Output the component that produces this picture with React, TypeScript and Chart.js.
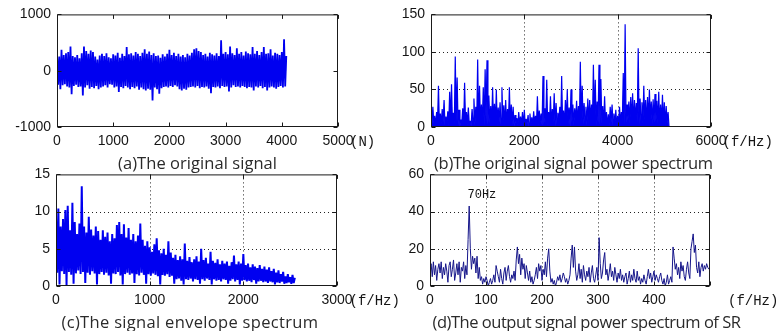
import React, { useEffect, useLayoutEffect, useRef } from "react";
import { Chart, registerables } from "chart.js";

Chart.register(...registerables);

// ---------------- (a) original signal: alternating upper / lower extremes ----------------
const SIGNAL_STEP = 20; // samples between successive extreme points
const SIGNAL_UPPER = [
  300, 250, 370, 280, 310, 330, 430, 260, 240, 280,
  220, 310, 430, 350, 300, 360, 330, 250, 200, 270,
  300, 260, 310, 240, 220, 290, 270, 320, 230, 300,
  260, 420, 290, 310, 270, 330, 300, 260, 320, 380,
  300, 340, 280, 310, 260, 270, 230, 290, 250, 300,
  370, 280, 320, 260, 300, 250, 280, 240, 300, 270,
  320, 380, 400, 350, 330, 280, 300, 250, 320, 290,
  270, 310, 260, 540, 300, 330, 290, 430, 310, 280,
  400, 300, 330, 270, 340, 310, 290, 420, 300, 350,
  280, 330, 420, 300, 310, 380, 270, 320, 300, 280,
  330, 560, 260,
];
const SIGNAL_LOWER = [
  -250, -330, -260, -240, -280, -300, -420, -270, -250, -290,
  -280, -440, -300, -260, -320, -290, -310, -270, -330, -300,
  -280, -260, -300, -240, -250, -300, -280, -380, -290, -310,
  -270, -300, -330, -290, -310, -280, -340, -300, -330, -350,
  -320, -340, -530, -300, -330, -410, -310, -290, -280, -300,
  -270, -290, -260, -280, -330, -350, -320, -340, -300, -290,
  -280, -300, -270, -310, -290, -300, -280, -320, -400, -290,
  -300, -280, -310, -270, -290, -280, -370, -300, -260, -290,
  -280, -300, -270, -290, -310, -290, -300, -350, -280, -300,
  -270, -310, -290, -350, -300, -280, -300, -320, -290, -270,
  -300, -280,
];

// ---------------- (b) original power spectrum ----------------
const SPEC_STEP = 20; // Hz between successive points (peak, trough, peak, ...)
const SPEC_PEAKS = [
  22, 27, 15, 20, 55, 18, 24, 36, 14, 21,
  47, 57, 19, 94, 66, 23, 10, 25, 59, 20,
  26, 8, 24, 38, 27, 90, 55, 30, 53, 77,
  89, 42, 28, 53, 31, 50, 26, 33, 53, 29,
  36, 24, 53, 30, 27, 16, 12, 20, 14, 20,
  23, 11, 16, 18, 13, 21, 15, 41, 22, 18,
  68, 25, 63, 20, 41, 24, 45, 32, 19, 27,
  68, 22, 36, 50, 26, 50, 30, 25, 35, 28,
  87, 55, 32, 27, 38, 36, 30, 83, 63, 34,
  83, 64, 28, 41, 20, 17, 27, 30, 18, 23,
  15, 27, 20, 72, 137, 30, 34, 40, 45, 36,
  32, 105, 38, 33, 55, 36, 40, 50, 34, 37,
  44, 35, 47, 30, 43, 33, 28, 20,
];
const SPEC_TROUGHS = [
  3, 5, 2, 6, 1, 4, 7, 2, 5, 3,
  6, 2, 4, 8, 3, 1, 5, 2, 6, 3,
  4, 2, 7, 3, 5, 1, 6, 4, 2, 8,
  3, 5, 2, 6, 4, 1, 7, 3, 5, 2,
  4, 6, 2, 3, 1, 5, 2, 4, 3, 1,
  2, 4, 1, 3, 2, 5, 1, 3, 6, 2,
  4, 7, 3, 5, 2, 6, 1, 4, 8, 3,
  5, 2, 6, 4, 1, 7, 3, 9, 5, 2,
  6, 4, 8, 3, 5, 10, 4, 7, 2, 6,
  3, 5, 2, 4, 1, 3, 6, 2, 4, 1,
  3, 5, 8, 4, 6, 9, 5, 7, 3, 10,
  6, 4, 8, 5, 9, 3, 7, 11, 4, 6,
  8, 5, 3, 6, 4, 2, 5, 1,
];

// ---------------- (c) envelope spectrum ----------------
const ENV_STEP = 12.5; // Hz between successive points
const ENV_PEAKS = [
  9.2, 10.4, 8.0, 9.0, 10.2, 10.8, 7.5, 11.2, 8.6, 7.0,
  8.4, 13.4, 8.0, 7.2, 9.3, 7.6, 6.8, 8.0, 7.4, 6.2,
  7.5, 6.6, 7.2, 6.0, 7.0, 6.4, 8.2, 8.6, 7.0, 8.3,
  6.5, 7.8, 6.2, 7.0, 6.0, 6.8, 8.4, 6.2, 5.4, 6.0,
  5.2, 4.6, 5.6, 6.4, 4.8, 4.4, 5.0, 4.2, 6.0, 4.5,
  3.8, 4.2, 3.5, 4.0, 3.6, 5.7, 3.4, 3.9, 3.2, 3.6,
  4.0, 3.3, 5.0, 3.5, 3.8, 3.0, 4.6, 3.4, 3.1, 3.6,
  2.9, 3.4, 3.0, 3.3, 2.7, 3.2, 4.1, 2.9, 3.3, 3.0,
  4.3, 2.8, 3.0, 2.5, 2.9, 2.6, 2.4, 2.8, 2.3, 2.6,
  2.2, 2.5, 2.0, 2.3, 1.8, 2.1, 1.6, 1.9, 1.3, 1.6,
  1.2, 1.5, 1.1,
];
const ENV_TROUGHS = [
  1.8, 0.2, 2.0, 1.6, 0.1, 1.9, 1.5, 0.3, 1.7, 2.1,
  1.6, 1.9, 0.4, 1.8, 1.5, 2.0, 1.7, 0.2, 1.6, 1.9,
  1.5, 1.8, 1.4, 0.3, 1.7, 1.6, 1.9, 1.4, 0.2, 1.6,
  1.8, 1.5, 1.7, 0.4, 1.6, 1.4, 1.8, 1.5, 0.3, 1.6,
  1.4, 1.7, 1.5, 1.3, 0.2, 1.5, 1.4, 1.6, 1.2, 1.4,
  0.3, 0.9, 1.0, 0.7, 0.2, 0.9, 0.8, 1.0, 0.6, 0.9,
  0.8, 0.3, 0.9, 0.7, 1.0, 0.8, 0.2, 0.9, 0.7, 0.8,
  0.6, 0.9, 0.8, 0.3, 0.7, 0.9, 0.6, 0.8, 0.2, 0.7,
  0.8, 0.6, 0.7, 0.5, 0.8, 0.3, 0.6, 0.7, 0.5, 0.6,
  0.4, 0.6, 0.5, 0.2, 0.5, 0.4, 0.6, 0.3, 0.4, 0.5,
  0.3, 0.4,
];

// ---------------- (d) SR output power spectrum ----------------
const SR_STEP = 2; // Hz
const SR_VALUES = [
  8, 12, 5, 13, 6, 11, 3, 9, 12, 7,
  13, 4, 10, 6, 12, 8, 2, 11, 13, 5,
  9, 14, 3, 7, 12, 6, 13, 2, 10, 8,
  13, 4, 11, 6, 25, 43, 20, 9, 16, 12,
  15, 7, 16, 4, 10, 3, 5, 1, 4, 2,
  5, 3, 0, 2, 4, 1, 3, 6, 2, 11,
  8, 5, 2, 9, 4, 1, 7, 10, 3, 8,
  11, 5, 2, 6, 4, 8, 3, 14, 21, 12,
  17, 6, 15, 9, 12, 4, 11, 7, 3, 8,
  2, 5, 1, 3, 6, 10, 4, 12, 8, 11,
  3, 9, 6, 13, 5, 15, 20, 8, 2, 4,
  1, 3, 0, 2, 5, 3, 6, 2, 4, 7,
  5, 2, 4, 1, 3, 6, 15, 22, 10, 21,
  8, 3, 6, 12, 4, 9, 2, 11, 6, 3,
  8, 5, 10, 2, 7, 11, 4, 2, 6, 10,
  3, 26, 12, 4, 7, 14, 18, 6, 9, 3,
  7, 12, 5, 8, 3, 10, 6, 2, 7, 4,
  9, 3, 6, 2, 5, 7, 1, 4, 8, 2,
  6, 3, 9, 4, 2, 8, 3, 5, 1, 4,
  2, 6, 3, 1, 5, 9, 4, 7, 2, 5,
  8, 3, 6, 4, 2, 5, 7, 3, 1, 4,
  0, 2, 6, 1, 3, 5, 2, 21, 15, 9,
  12, 6, 10, 4, 13, 8, 11, 5, 3, 9,
  13, 7, 4, 20, 24, 28, 18, 22, 10, 7,
  13, 5, 10, 12, 8, 11, 9, 12, 10, 9,
];
const SR_NOTE = { text: "70Hz", x: 67, y: 47.4 };

// ---------------- ticks ----------------
const A_X_TICKS = [0, 1000, 2000, 3000, 4000, 5000];
const A_Y_TICKS = [-1000, 0, 1000];
const B_X_TICKS = [0, 2000, 4000, 6000];
const B_Y_TICKS = [0, 50, 100, 150];
const C_X_TICKS = [0, 1000, 2000, 3000];
const C_Y_TICKS = [0, 5, 10, 15];
const D_X_TICKS = [0, 100, 200, 300, 400, 500];
const D_X_LABELS = ["0", "100", "200", "300", "400", ""];
const D_Y_TICKS = [0, 20, 40, 60];

type Pt = { x: number; y: number };

function alternate(hi: number[], lo: number[], step: number): Pt[] {
  const out: Pt[] = [];
  for (let i = 0; i < hi.length; i++) {
    out.push({ x: 2 * i * step, y: hi[i] });
    if (i < lo.length) out.push({ x: (2 * i + 1) * step, y: lo[i] });
  }
  return out;
}

function series(vals: number[], step: number): Pt[] {
  return vals.map((v, i) => ({ x: i * step, y: v }));
}

const TICK_FONT = { family: '"Liberation Sans", Arial, sans-serif', size: 14 };
const TICK_COLOR = "#151515";
const FRAME_COLOR = "#1a1a1a";

type Spec = {
  left: number;
  top: number;
  width: number;
  height: number;
  area: [number, number, number, number];
  xMin: number;
  xMax: number;
  yMin: number;
  yMax: number;
  xTicks: number[];
  xLabels?: string[];
  yTicks: number[];
  grid: boolean;
  points: Pt[];
  color: string;
  lineWidth: number;
  fill: boolean;
  note?: { text: string; x: number; y: number };
};

function framePlugin(spec: Spec) {
  return {
    id: "frame",
    beforeDatasetsDraw(chart: any) {
      if (!spec.grid) return;
      const { ctx, chartArea: a, scales } = chart;
      const xs = scales.x;
      const ys = scales.y;
      ctx.save();
      ctx.strokeStyle = "#222";
      ctx.lineWidth = 1;
      ctx.setLineDash([1, 3]);
      for (const v of spec.xTicks) {
        const p = Math.round(xs.getPixelForValue(v)) + 0.5;
        if (p <= a.left + 2 || p >= a.right - 2) continue;
        ctx.beginPath();
        ctx.moveTo(p, a.top);
        ctx.lineTo(p, a.bottom);
        ctx.stroke();
      }
      for (const v of spec.yTicks) {
        const p = Math.round(ys.getPixelForValue(v)) + 0.5;
        if (p <= a.top + 2 || p >= a.bottom - 2) continue;
        ctx.beginPath();
        ctx.moveTo(a.left, p);
        ctx.lineTo(a.right, p);
        ctx.stroke();
      }
      ctx.restore();
    },
    afterDatasetsDraw(chart: any) {
      const { ctx, chartArea: a, scales } = chart;
      const xs = scales.x;
      const ys = scales.y;
      const L = a.left + 0.5;
      const R = a.right - 0.5;
      const T = a.top + 0.5;
      const B = a.bottom - 0.5;
      const tl = 4;
      ctx.save();
      ctx.strokeStyle = FRAME_COLOR;
      ctx.lineWidth = 1;
      ctx.setLineDash([]);
      ctx.beginPath();
      for (const v of spec.xTicks) {
        const p = Math.round(xs.getPixelForValue(v)) + 0.5;
        ctx.moveTo(p, B);
        ctx.lineTo(p, B - tl);
        ctx.moveTo(p, T);
        ctx.lineTo(p, T + tl);
      }
      for (const v of spec.yTicks) {
        const p = Math.round(ys.getPixelForValue(v)) + 0.5;
        ctx.moveTo(L, p);
        ctx.lineTo(L + tl, p);
        ctx.moveTo(R, p);
        ctx.lineTo(R - tl, p);
      }
      ctx.stroke();
      ctx.strokeRect(L, T, R - L, B - T);
      if (spec.note) {
        ctx.fillStyle = "#111";
        ctx.font = '12px "Liberation Mono", monospace';
        ctx.textAlign = "left";
        ctx.textBaseline = "alphabetic";
        ctx.fillText(
          spec.note.text,
          xs.getPixelForValue(spec.note.x),
          ys.getPixelForValue(spec.note.y)
        );
      }
      ctx.restore();
    },
  };
}

function Panel({ spec }: { spec: Spec }) {
  const ref = useRef<HTMLCanvasElement>(null);
  useEffect(() => {
    const canvas = ref.current;
    if (!canvas) return;
    const [l, t, r, b] = spec.area;
    const chart = new Chart(canvas, {
      type: "line",
      data: {
        datasets: [
          {
            data: spec.points as any,
            borderColor: spec.color,
            backgroundColor: spec.color,
            borderWidth: spec.lineWidth,
            borderJoinStyle: "bevel",
            pointRadius: 0,
            pointHoverRadius: 0,
            tension: 0,
            fill: spec.fill ? "origin" : false,
          },
        ],
      },
      options: {
        animation: false,
        responsive: false,
        devicePixelRatio: 1,
        events: [],
        layout: { padding: { left: 0, top: t, right: spec.width - r, bottom: 0 } },
        plugins: {
          legend: { display: false },
          tooltip: { enabled: false },
        },
        scales: {
          x: {
            type: "linear",
            min: spec.xMin,
            max: spec.xMax,
            grid: { display: false, drawTicks: false },
            border: { display: false },
            afterBuildTicks: (s: any) => {
              s.ticks = spec.xTicks.map((v) => ({ value: v }));
            },
            afterFit: (s: any) => {
              s.height = spec.height - b;
            },
            ticks: {
              autoSkip: false,
              maxRotation: 0,
              minRotation: 0,
              padding: 6,
              font: TICK_FONT,
              color: TICK_COLOR,
              callback: (v: any, i: number) =>
                spec.xLabels ? spec.xLabels[i] : String(spec.xTicks[i]),
            },
          },
          y: {
            type: "linear",
            min: spec.yMin,
            max: spec.yMax,
            grid: { display: false, drawTicks: false },
            border: { display: false },
            afterBuildTicks: (s: any) => {
              s.ticks = spec.yTicks.map((v) => ({ value: v }));
            },
            afterFit: (s: any) => {
              s.width = l;
            },
            ticks: {
              autoSkip: false,
              padding: 6,
              font: TICK_FONT,
              color: TICK_COLOR,
              callback: (v: any, i: number) => String(spec.yTicks[i]),
            },
          },
        },
      },
      plugins: [framePlugin(spec)],
    });
    return () => chart.destroy();
  }, [spec]);
  return (
    <canvas
      ref={ref}
      width={spec.width}
      height={spec.height}
      style={{ position: "absolute", left: spec.left, top: spec.top, display: "block" }}
    />
  );
}

const SPECS: Spec[] = [
  {
    left: 0, top: 0, width: 390, height: 160, area: [57, 14, 338, 127],
    xMin: 0, xMax: 5000, yMin: -1000, yMax: 1000,
    xTicks: A_X_TICKS, yTicks: A_Y_TICKS, grid: false,
    points: alternate(SIGNAL_UPPER, SIGNAL_LOWER, SIGNAL_STEP), color: "#0000f0",
    lineWidth: 1.8, fill: true,
  },
  {
    left: 390, top: 0, width: 388, height: 160, area: [41, 14, 321, 127],
    xMin: 0, xMax: 6000, yMin: 0, yMax: 150,
    xTicks: B_X_TICKS, yTicks: B_Y_TICKS, grid: true,
    points: alternate(SPEC_PEAKS, SPEC_TROUGHS, SPEC_STEP), color: "#0000f0",
    lineWidth: 1.2, fill: true,
  },
  {
    left: 0, top: 160, width: 390, height: 171, area: [56, 13, 337, 126],
    xMin: 0, xMax: 3000, yMin: 0, yMax: 15,
    xTicks: C_X_TICKS, yTicks: C_Y_TICKS, grid: true,
    points: alternate(ENV_PEAKS, ENV_TROUGHS, ENV_STEP), color: "#0000f0",
    lineWidth: 2, fill: false,
  },
  {
    left: 390, top: 160, width: 388, height: 171, area: [40, 13, 320, 126],
    xMin: 0, xMax: 500, yMin: 0, yMax: 60,
    xTicks: D_X_TICKS, xLabels: D_X_LABELS, yTicks: D_Y_TICKS, grid: true,
    points: series(SR_VALUES, SR_STEP), color: "#16168a", note: SR_NOTE,
    lineWidth: 1, fill: false,
  },
];

// caption text with the horizontal span it occupies in the reference
const CAPTIONS = [
  { text: "(a)The original signal", left: 118, right: 277, top: 152.5 },
  { text: "(b)The original signal power spectrum", left: 434, right: 713, top: 152.5 },
  { text: "(c)The signal envelope spectrum", left: 61.5, right: 318, top: 311.5 },
  { text: "(d)The output signal power spectrum of SR", left: 432.5, right: 741, top: 311.5 },
];

const UNITS = [
  { text: "(N)", left: 350, top: 134 },
  { text: "(f/Hz)", left: 722.5, top: 134 },
  { text: "(f/Hz)", left: 349.5, top: 292.5 },
  { text: "(f/Hz)", left: 728, top: 292.5 },
];

function Caption({ c }: { c: { text: string; left: number; right: number; top: number } }) {
  const ref = useRef<HTMLDivElement>(null);
  useLayoutEffect(() => {
    const el = ref.current;
    if (!el) return;
    el.style.letterSpacing = "0px";
    const w = el.getBoundingClientRect().width;
    const n = c.text.length;
    const ls = (c.right - c.left - w) / Math.max(1, n - 1);
    el.style.letterSpacing = ls.toFixed(3) + "px";
  }, [c]);
  return (
    <div
      ref={ref}
      style={{
        position: "absolute",
        left: c.left,
        top: c.top,
        font: '16.5px "Open Sans", sans-serif',
        lineHeight: "20px",
        color: "#2a2a2a",
        whiteSpace: "nowrap",
      }}
    >
      {c.text}
    </div>
  );
}

export default function App() {
  return (
    <div
      style={{
        position: "absolute",
        left: 0,
        top: 0,
        width: 778,
        height: 331,
        overflow: "hidden",
        background: "#fff",
      }}
    >
      {SPECS.map((s, i) => (
        <Panel key={i} spec={s} />
      ))}
      {CAPTIONS.map((c, i) => (
        <Caption key={"c" + i} c={c} />
      ))}
      {UNITS.map((u, i) => (
        <div
          key={"u" + i}
          style={{
            position: "absolute",
            left: u.left,
            top: u.top,
            font: '14px "Liberation Mono", monospace',
            lineHeight: "16px",
            color: "#151515",
            whiteSpace: "nowrap",
          }}
        >
          {u.text}
        </div>
      ))}
    </div>
  );
}
